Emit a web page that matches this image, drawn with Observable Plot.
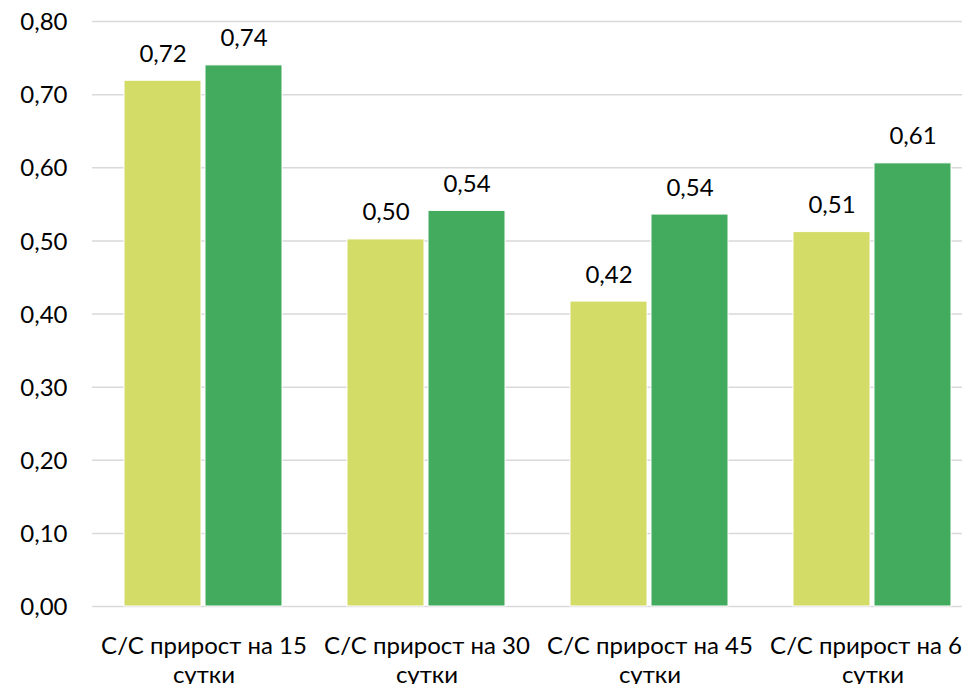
<!DOCTYPE html>
<html>
<head>
<meta charset="utf-8">
<script src="https://cdn.jsdelivr.net/npm/d3@7"></script>
<script src="https://cdn.jsdelivr.net/npm/@observablehq/plot@0.6"></script>
<style>
  html, body { margin: 0; padding: 0; background: #fff; overflow: hidden; }
  #chart { width: 962px; height: 684px; overflow: hidden; }
  #chart svg { max-width: none !important; }
</style>
</head>
<body>
<div id="chart"></div>
<script>
const categories = ["С/С прирост на 15 сутки", "С/С прирост на 30 сутки", "С/С прирост на 45 сутки", "С/С прирост на 60 сутки"];
const series = ["A", "B"];
const seriesA = [0.719, 0.502, 0.417, 0.512];
const seriesB = [0.740, 0.541, 0.536, 0.606];
const colors = ["#D4DC68", "#43AB5E"];
const yTicks = [0, 0.1, 0.2, 0.3, 0.4, 0.5, 0.6, 0.7, 0.8];

const data = [];
categories.forEach((c, i) => {
  data.push({cat: c, s: series[0], v: seriesA[i]});
  data.push({cat: c, s: series[1], v: seriesB[i]});
});
const fmt = v => d3.format(".2f")(v).replace(".", ",");

const chart = Plot.plot({
  width: 984,
  height: 684,
  marginTop: 21,
  marginBottom: 78,
  marginLeft: 91,
  marginRight: 0,
  style: {fontFamily: "Lato, 'Open Sans', sans-serif", fontSize: "24px", color: "#000", background: "#fff", maxWidth: "none"},
  fx: {domain: categories, padding: 0},
  x: {domain: series, paddingInner: 0.045, paddingOuter: 0.39},
  y: {domain: [0, 0.8]},
  color: {domain: series, range: colors},
  marks: [
    Plot.gridY(yTicks, {stroke: "#d9d9d9", strokeOpacity: 1, strokeWidth: 1.5}),
    Plot.barY(data, {fx: "cat", x: "s", y: "v", fill: "s", stroke: "#fff", strokeWidth: 1}),
    Plot.text(data, {fx: "cat", x: "s", y: "v", text: d => fmt(d.v), lineAnchor: "bottom", dy: -19, fontSize: 24, fill: "#000"}),
    Plot.axisY({ticks: yTicks, tickFormat: fmt, tickSize: 0, tickPadding: 25, fontSize: 24, label: null, dy: 1}),
    Plot.axisFx({anchor: "bottom", tickSize: 0, tickPadding: 27, fontSize: 24, label: null, lineHeight: 1.2,
      tickFormat: d => d.replace(" сутки", "\nсутки")}),
    Plot.axisX({ticks: [], label: null})
  ]
});
document.getElementById("chart").appendChild(chart);
</script>
</body>
</html>
